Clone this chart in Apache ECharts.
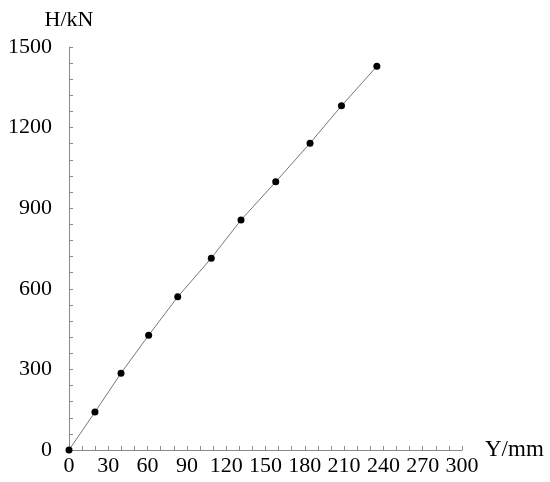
<!DOCTYPE html>
<html>
<head>
<meta charset="utf-8">
<script src="https://cdn.jsdelivr.net/npm/echarts@6/dist/echarts.min.js"></script>
<style>
  html, body { margin: 0; padding: 0; background: #fff; }
  #chart { width: 550px; height: 482px; }
</style>
</head>
<body>
<div id="chart"></div>
<script>
// displacement Y (mm) vs load H (kN)
const dispY = [0, 19.8, 39.7, 60.8, 83, 108.6, 131.3, 157.8, 184, 208, 235];
const loadH = [0, 141, 286, 427, 570, 714, 856, 998, 1142, 1281, 1428];

const axisGray = '#8a8a8a';
const font = 'Liberation Serif, Times New Roman, serif';
const fsz = 22;

const chart = echarts.init(document.getElementById('chart'));

chart.setOption({
  animation: false,
  grid: { left: 69, right: 88, top: 47, bottom: 32 },
  xAxis: {
    type: 'value',
    min: 0,
    max: 300,
    interval: 30,
    name: 'Y/mm',
    nameLocation: 'end',
    nameGap: 23,
    nameTextStyle: { color: '#000', fontFamily: font, fontSize: 23, verticalAlign: 'middle', padding: [4, 0, 0, 0] },
    axisLine: { lineStyle: { color: axisGray, width: 1 } },
    axisTick: { inside: true, length: 4, lineStyle: { color: axisGray } },
    minorTick: { show: true, splitNumber: 3, length: 4, lineStyle: { color: axisGray } },
    axisLabel: { color: '#000', fontFamily: font, fontSize: fsz, margin: 5, formatter: v => String(v) },
    splitLine: { show: false }
  },
  yAxis: {
    type: 'value',
    min: 0,
    max: 1500,
    interval: 300,
    name: 'H/kN',
    nameLocation: 'end',
    nameGap: 16,
    nameTextStyle: { color: '#000', fontFamily: font, fontSize: fsz, align: 'center' },
    axisLine: { show: true, lineStyle: { color: axisGray, width: 1 } },
    axisTick: { show: true, inside: true, length: 4, lineStyle: { color: axisGray } },
    minorTick: { show: true, splitNumber: 5, length: 4, lineStyle: { color: axisGray } },
    axisLabel: { color: '#000', fontFamily: font, fontSize: fsz, margin: 17, formatter: v => String(v) },
    splitLine: { show: false }
  },
  series: [{
    type: 'line',
    data: dispY.map((y, i) => [y, loadH[i]]),
    symbol: 'circle',
    symbolSize: 7,
    itemStyle: { color: '#000' },
    lineStyle: { color: '#777', width: 1 },
    z: 3
  }]
});
</script>
</body>
</html>
